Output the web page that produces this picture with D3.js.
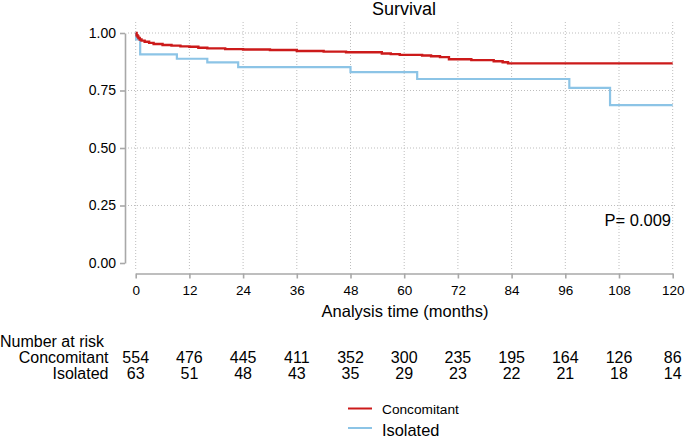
<!DOCTYPE html>
<html>
<head>
<meta charset="utf-8">
<script src="https://cdn.jsdelivr.net/npm/d3@7"></script>
<style>
  body { margin: 0; background: #fff; }
  svg { display: block; font-family: "Liberation Sans", Arial, sans-serif; }
</style>
</head>
<body>
<div id="chart"></div>
<script>
// survival steps: [months, S(t)]
var concomitant = [
  [0, 1.0], [0.2, 0.99], [0.4, 0.985], [0.6, 0.978], [0.9, 0.972], [1.3, 0.967],
  [2, 0.962], [3, 0.957], [4, 0.952], [6, 0.948], [8, 0.945], [10, 0.942],
  [12, 0.940], [14, 0.936], [16, 0.933], [20, 0.930], [24, 0.928], [30, 0.926],
  [36, 0.922], [42, 0.919], [47, 0.916], [55, 0.911], [57, 0.908], [59, 0.905],
  [64, 0.902], [66, 0.899], [68, 0.895], [70, 0.886], [75, 0.882], [80, 0.877],
  [82, 0.873], [83.2, 0.868], [120, 0.868]
];
var isolated = [
  [0, 1.0], [0.1, 0.972], [1, 0.907], [9.2, 0.888], [16, 0.872], [22.9, 0.852],
  [48, 0.830], [62.9, 0.800], [96.9, 0.761], [106, 0.686], [120, 0.686]
];

var xTicks = [0, 12, 24, 36, 48, 60, 72, 84, 96, 108, 120];
var yTicks = [0, 0.25, 0.5, 0.75, 1.0];
var groups = ["Concomitant", "Isolated"];
var atRisk = [
  [554, 476, 445, 411, 352, 300, 235, 195, 164, 126, 86],
  [63, 51, 48, 43, 35, 29, 23, 22, 21, 18, 14]
];
var pValue = "P= 0.009";

var W = 685, H = 438;
var red = "#cc1a1a", blue = "#8cc4e6", axisCol = "#a8a8a8", gridCol = "#bdbdbd";

var svg = d3.select("#chart").append("svg")
    .attr("width", W)
    .attr("height", H);

var x = d3.scaleLinear().domain([0, 120]).range([135.7, 672.7]);
var y = d3.scaleLinear().domain([0, 1]).range([263, 33]);

// grid
svg.append("g").selectAll("line")
    .data(yTicks.filter(function(d) { return d > 0; }))
  .enter().append("line")
    .attr("x1", 128).attr("x2", 677)
    .attr("y1", function(d) { return y(d); })
    .attr("y2", function(d) { return y(d); })
    .attr("stroke", gridCol)
    .attr("stroke-width", 1)
    .attr("stroke-dasharray", "1,2");

svg.append("g").selectAll("line")
    .data(xTicks)
  .enter().append("line")
    .attr("y1", 22).attr("y2", 269)
    .attr("x1", function(d) { return x(d); })
    .attr("x2", function(d) { return x(d); })
    .attr("stroke", gridCol)
    .attr("stroke-width", 1)
    .attr("stroke-dasharray", "1,2");

// axes
var yAxis = svg.append("g")
    .attr("transform", "translate(125,0)")
    .call(d3.axisLeft(y).tickValues(yTicks).tickFormat(d3.format(".2f"))
          .tickSize(5).tickSizeOuter(0).tickPadding(4));
var xAxis = svg.append("g")
    .attr("transform", "translate(0,273.5)")
    .call(d3.axisBottom(x).tickValues(xTicks)
          .tickSize(5).tickSizeOuter(0).tickPadding(7));

[xAxis, yAxis].forEach(function(a) {
  a.select(".domain").attr("stroke", axisCol).attr("stroke-width", 1.6);
  a.selectAll(".tick line").attr("stroke", axisCol).attr("stroke-width", 1.6);
  a.selectAll("text").attr("fill", "#000").style("font-family", "Liberation Sans, Arial, sans-serif");
});
yAxis.selectAll("text").style("font-size", "14px");
xAxis.selectAll("text").style("font-size", "13.5px");

// curves
var line = d3.line()
    .curve(d3.curveStepAfter)
    .x(function(d) { return x(d[0]); })
    .y(function(d) { return y(d[1]); });

svg.append("path").datum(isolated)
    .attr("d", line)
    .attr("fill", "none")
    .attr("stroke", blue)
    .attr("stroke-width", 2.2);

svg.append("path").datum(concomitant)
    .attr("d", line)
    .attr("fill", "none")
    .attr("stroke", red)
    .attr("stroke-width", 2.4);

// texts
svg.append("text")
    .attr("x", 404).attr("y", 15)
    .attr("text-anchor", "middle")
    .style("font-size", "18px")
    .text("Survival");

svg.append("text")
    .attr("x", 405).attr("y", 317)
    .attr("text-anchor", "middle")
    .style("font-size", "16.5px")
    .text("Analysis time (months)");

svg.append("text")
    .attr("x", 671).attr("y", 226)
    .attr("text-anchor", "end")
    .style("font-size", "16.5px")
    .text(pValue);

// number at risk table
svg.append("text")
    .attr("x", 0).attr("y", 346.5)
    .style("font-size", "16px")
    .text("Number at risk");

var rowY = [362.5, 378.5];
groups.forEach(function(g, i) {
  svg.append("text")
      .attr("x", 108.5).attr("y", rowY[i])
      .attr("text-anchor", "end")
      .style("font-size", "16px")
      .text(g);
  svg.append("g").selectAll("text")
      .data(atRisk[i])
    .enter().append("text")
      .attr("x", function(d, j) { return x(xTicks[j]); })
      .attr("y", rowY[i])
      .attr("text-anchor", "middle")
      .style("font-size", "16px")
      .text(function(d) { return d; });
});

// legend
var legend = [
  { name: groups[0], color: red, y: 408.5, ty: 413.5, size: "13.7px" },
  { name: groups[1], color: blue, y: 428, ty: 435.5, size: "16.4px" }
];
legend.forEach(function(l) {
  svg.append("line")
      .attr("x1", 348).attr("x2", 372)
      .attr("y1", l.y).attr("y2", l.y)
      .attr("stroke", l.color)
      .attr("stroke-width", 2);
  svg.append("text")
      .attr("x", 382).attr("y", l.ty)
      .style("font-size", l.size)
      .text(l.name);
});
</script>
</body>
</html>
